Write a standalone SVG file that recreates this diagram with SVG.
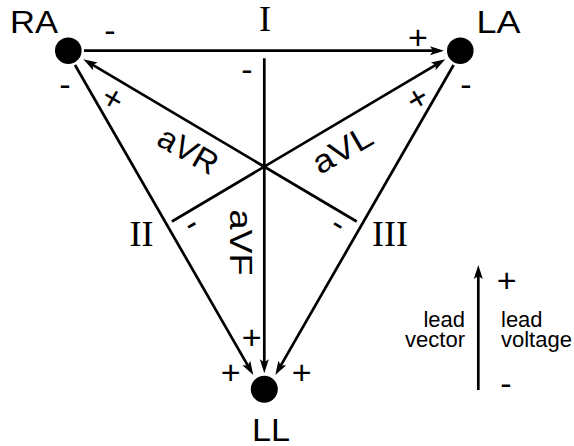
<svg xmlns="http://www.w3.org/2000/svg" width="574" height="446" viewBox="0 0 574 446">
<style>
.ln{stroke:#000;stroke-width:2.7;fill:none;marker-end:url(#ah)}
.nd{fill:#000}
.sans{font-family:"Liberation Sans",Arial,Helvetica,sans-serif;fill:#000}
.serif{font-family:"Liberation Serif","Times New Roman",serif;fill:#000;font-size:36px;text-anchor:middle}
.lbl{font-size:32px;text-anchor:middle}
.pm{font-size:34px;text-anchor:middle}
.leg{font-size:22px}
</style>
<defs>
<marker id="ah" markerUnits="userSpaceOnUse" viewBox="-8 -6 18 12" refX="0" refY="0" markerWidth="18" markerHeight="12" orient="auto" overflow="visible">
<path d="M8,0 L-6,-4.5 L-3,0 L-6,4.5 Z" fill="#000"/>
</marker>
</defs>
<rect width="574" height="446" fill="#fff"/>
<g id="connectors">
<line id="lead-I" class="ln" x1="84" y1="50.7" x2="436" y2="50.7"/>
<line id="lead-aVR" class="ln" x1="356.7" y1="221.5" x2="90.2" y2="63.4"/>
<line id="lead-aVL" class="ln" x1="171.9" y1="221.5" x2="438.4" y2="63.4"/>
<line id="lead-aVF" class="ln" x1="264.3" y1="58.3" x2="264.3" y2="365.3"/>
<line id="lead-II" class="ln" x1="75" y1="65" x2="249.3" y2="368.1"/>
<line id="lead-III" class="ln" x1="453.6" y1="65" x2="279.3" y2="368.1"/>
</g>
<g id="RA">
<circle class="nd" cx="68.3" cy="50.7" r="13.3"/>
<text class="sans lbl" x="34" y="32.5" textLength="48" lengthAdjust="spacingAndGlyphs">RA</text>
</g>
<g id="LA">
<circle class="nd" cx="460.3" cy="50.7" r="13.3"/>
<text class="sans lbl" x="498.5" y="32.5" textLength="44" lengthAdjust="spacingAndGlyphs">LA</text>
</g>
<g id="LL">
<circle class="nd" cx="264.3" cy="389.3" r="13.5"/>
<text class="sans lbl" x="271" y="440.5" textLength="38" lengthAdjust="spacingAndGlyphs">LL</text>
</g>
<g id="labels">
<text class="serif" x="265" y="30.7">I</text>
<text class="serif" x="141.5" y="245.7">II</text>
<text class="serif" x="390" y="245.7">III</text>
<text class="sans lbl" transform="translate(188.5,150) rotate(30)" x="0" y="11.5" textLength="64" lengthAdjust="spacingAndGlyphs">aVR</text>
<text class="sans lbl" transform="translate(342,149) rotate(-30)" x="0" y="11.5" textLength="64" lengthAdjust="spacingAndGlyphs">aVL</text>
<text class="sans lbl" transform="translate(241.5,242.5) rotate(90)" x="0" y="11.5" textLength="66" lengthAdjust="spacingAndGlyphs">aVF</text>
</g>
<g id="polarity">
<text class="sans pm" x="418" y="48.5">+</text>
<text class="sans pm" x="110" y="41.5">-</text>
<text class="sans pm" x="247" y="81">-</text>
<text class="sans pm" x="65" y="95.5">-</text>
<text class="sans pm" x="466" y="95.5">-</text>
<text class="sans pm" x="251.7" y="348.5">+</text>
<text class="sans pm" x="230.7" y="384">+</text>
<text class="sans pm" x="301.7" y="384">+</text>
<text class="sans pm" transform="translate(113,98) rotate(30)" x="0" y="12">+</text>
<text class="sans pm" transform="translate(417,98) rotate(-30)" x="0" y="12">+</text>
<text class="sans pm" transform="translate(338,225) rotate(30)" x="0" y="9.5">-</text>
<text class="sans pm" transform="translate(191.5,225) rotate(-30)" x="0" y="9.5">-</text>
</g>
<g id="legend">
<line class="ln" x1="478.3" y1="390" x2="478.3" y2="273"/>
<text class="sans pm" x="506.7" y="292">+</text>
<text class="sans pm" x="506" y="394.5">-</text>
<text class="sans leg" x="465" y="326.7" text-anchor="end">lead</text>
<text class="sans leg" x="465" y="347.3" text-anchor="end">vector</text>
<text class="sans leg" x="501" y="326.7">lead</text>
<text class="sans leg" x="501" y="347.3">voltage</text>
</g>
</svg>
